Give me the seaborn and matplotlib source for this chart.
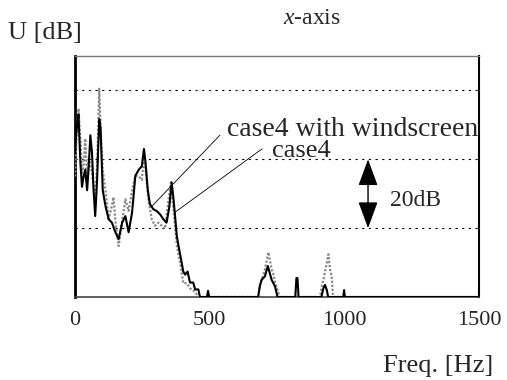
import matplotlib
matplotlib.use("Agg")
import matplotlib.pyplot as plt
import seaborn as sns
import pandas as pd

# Spectrum of case4 (no windscreen)
freq_case4 = [0, 4, 8, 13, 20, 26, 32, 38, 45, 51, 57, 63, 69, 75, 82, 90, 95,
              103, 113, 125, 137, 150, 162, 175, 187, 199, 212, 224, 237, 248,
              256, 262, 270, 278, 291, 303, 316, 328, 340, 350, 359, 365, 371,
              378, 384, 396, 402, 409, 418, 427, 439, 446, 458, 464, 490, 494,
              498, 680, 686, 693, 705, 716, 730, 743, 752, 818, 822, 826, 830,
              915, 922, 928, 935, 940, 996, 999, 1002, 1500]
db_case4 = [42, 47, 50, 53, 39, 32, 35, 37, 31, 38, 47, 42, 31, 23.5, 34, 51.7,
            48.8, 31, 26.5, 22.6, 21.6, 18.8, 16.8, 21.6, 23.5, 18.8, 24.6,
            35.2, 37, 38, 43, 39, 31.3, 27, 25.5, 25, 24, 22.6, 21.6, 26, 33.3,
            29, 24, 17.7, 15, 10, 7.4, 6.5, 7.4, 4.2, 4.2, 2.2, 2.2, 0, 0, 1.8,
            0, 0, 3, 5, 6, 9, 5, 3, 0, 0, 5.5, 5.5, 0,
            0, 2.5, 3.5, 2, 0, 0, 2, 0, 0]

# Spectrum of case4 with windscreen
freq_wind = [0, 5, 13, 20, 26, 32, 38, 45, 51, 63, 69, 75, 82, 90, 97, 103, 113,
             125, 137, 143, 150, 162, 175, 187, 199, 212, 224, 237, 248, 256,
             262, 272, 285, 297, 310, 322, 334, 346, 356, 365, 378, 390, 402,
             415, 427, 446, 458, 680, 687, 693, 705, 718, 730, 736, 743, 755,
             758, 910, 916, 922, 930, 941, 947, 953, 958, 1500]
db_wind = [35, 45, 54.7, 46, 36, 38, 46, 34, 40.7, 36, 32, 29.4, 38, 60.5, 46,
           37, 31, 22.6, 26.5, 29, 22, 14.8, 22, 28.4, 25, 31, 35.2, 35, 34,
           40, 37, 28.6, 22.6, 20.7, 21.6, 20.7, 19.8, 27.5, 33.3, 26, 15, 10,
           4, 4, 2.5, 1.5, 0, 0, 4.2, 4.9, 8, 13, 8, 6.8, 4.2, 1.3,
           0, 0, 3, 4.9, 8, 12.4, 8, 6, 0, 0]

x_ticks = [0, 500, 1000, 1500]
grid_levels = [20, 40, 60]

sns.set_theme(style="white")
plt.rcParams["font.family"] = ["Liberation Serif", "DejaVu Serif"]
plt.rcParams["mathtext.fontset"] = "custom"
plt.rcParams["mathtext.it"] = "Liberation Serif:italic"
plt.rcParams["mathtext.rm"] = "Liberation Serif"

fig = plt.figure(figsize=(5.07, 3.80), dpi=100)
ax = fig.add_axes([75 / 507, 1 - 297 / 380, (479 - 75) / 507, (297 - 56) / 380])

df_wind = pd.DataFrame({"f": freq_wind, "db": db_wind})
df_case = pd.DataFrame({"f": freq_case4, "db": db_case4})

sns.lineplot(data=df_wind, x="f", y="db", ax=ax, sort=False, estimator=None,
             color="#8a8a8a", linewidth=1.6, linestyle=(0, (1, 0.8)), zorder=3)
sns.lineplot(data=df_case, x="f", y="db", ax=ax, sort=False, estimator=None,
             color="black", linewidth=1.5, zorder=4)

ax.set_xlim(0, 1500)
ax.set_ylim(0, 70)
ax.set_xticks(x_ticks)
ax.set_xticklabels([str(t) for t in x_ticks], fontsize=16)
ax.set_yticks(grid_levels)
ax.set_yticklabels([])
ax.tick_params(axis="both", length=0)
ax.tick_params(axis="x", pad=10)
ax.set_xlabel("")
ax.set_ylabel("")
ax.yaxis.grid(True, color="black", linestyle=(0, (2, 4)), linewidth=0.8)
ax.xaxis.grid(False)

for side, lw, col in [("left", 2.0, "black"), ("right", 1.5, "black"),
                      ("top", 1.0, "#777777"), ("bottom", 1.2, "#444444")]:
    ax.spines[side].set_visible(True)
    ax.spines[side].set_linewidth(lw)
    ax.spines[side].set_color(col)

# Leader lines and curve labels
ax.plot([538, 286], [47, 26.4], color="black", linewidth=0.6, zorder=5)
ax.plot([694, 371], [43, 24.6], color="black", linewidth=0.6, zorder=5)
ax.text(564, 46.8, "case4 with windscreen", fontsize=20, va="baseline",
        ha="left", zorder=6)
ax.text(731, 40.7, "case4", fontsize=19, va="baseline", ha="left", zorder=6)

# 20 dB scale arrow
ax.annotate("", xy=(1088, 40), xytext=(1088, 20),
            arrowprops=dict(arrowstyle="<|-|>,head_length=1.66,head_width=0.61",
                            mutation_scale=10, color="black", lw=1.0,
                            shrinkA=0, shrinkB=0), zorder=6)
ax.text(1170, 27.9, "20dB", fontsize=17, va="center", ha="left")

fig.text(312 / 507, 1 - 18 / 380, r"$x$-axis", fontsize=17, ha="center",
         va="center")
fig.text(8 / 507, 1 - 33 / 380, "U [dB]", fontsize=19, ha="left", va="center")
fig.text(493 / 507, 1 - 366 / 380, "Freq. [Hz]", fontsize=19, ha="right",
         va="center")

fig.savefig("out.png", dpi=100)
